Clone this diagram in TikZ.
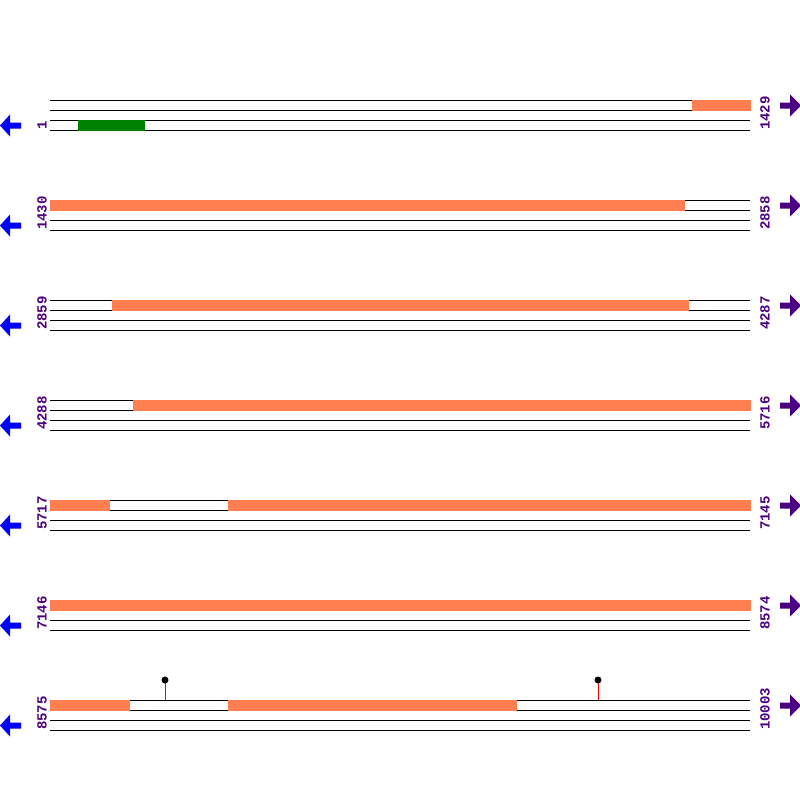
\documentclass[tikz,border=0pt]{standalone}
\usepackage{fontspec}
\setmonofont{Liberation Mono}
\definecolor{bar}{HTML}{FF7F50}
\definecolor{feat}{HTML}{008000}
\definecolor{lab}{HTML}{4B0082}
\definecolor{larr}{HTML}{0000FF}
\tikzset{
  seqline/.style={black, line width=1pt},
  orangebar/.style={fill=bar, draw=none},
  greenbar/.style={fill=feat, draw=none},
  numlab/.style={rotate=90, anchor=west, inner sep=0pt, text=lab, font=\fontsize{14}{14}\selectfont\ttfamily\bfseries},
  leftarrow/.style={fill=larr, draw=none},
  rightarrow/.style={fill=lab, draw=none},
  stem/.style={red, line width=1pt},
  pin/.style={circle, fill=black, inner sep=0pt, minimum size=7pt}
}
\begin{document}
\begin{tikzpicture}[x=1pt,y=-1pt]
\useasboundingbox (0,0) rectangle (800,800);
% block rows
\foreach \k/\l/\r in {1/1/1429,2/1430/2858,3/2859/4287,4/4288/5716,5/5717/7145,6/7146/8574,7/8575/10003}{
  \pgfmathsetmacro{\yy}{100*\k}
  \foreach \d in {0,10,20,30}{
    \draw[seqline] (50,\yy+\d) -- (750,\yy+\d);
  }
  \node[numlab] (L\k) at (42,\yy+30) {\l};
  \node[numlab] (R\k) at (765,\yy+30) {\r};
  % left arrow
  \fill[leftarrow] (0,\yy+25.5) -- (10,\yy+14.5) -- (10,\yy+22.5) -- (21,\yy+22.5) -- (21,\yy+28.5) -- (10,\yy+28.5) -- (10,\yy+36.5) -- cycle;
  % right arrow
  \fill[rightarrow] (801,\yy+5.5) -- (790,\yy-5.5) -- (790,\yy+2.5) -- (780,\yy+2.5) -- (780,\yy+8.5) -- (790,\yy+8.5) -- (790,\yy+16.5) -- cycle;
}
% bars
\fill[orangebar] (692,100) rectangle (751,111);
\fill[greenbar] (78,120) rectangle (145,131);
\fill[orangebar] (50,200) rectangle (685,211);
\fill[orangebar] (112,300) rectangle (689,311);
\fill[orangebar] (133,400) rectangle (751,411);
\fill[orangebar] (50,500) rectangle (110,511);
\fill[orangebar] (228,500) rectangle (751,511);
\fill[orangebar] (50,600) rectangle (751,611);
\fill[orangebar] (50,700) rectangle (130,711);
\fill[orangebar] (228,700) rectangle (517,711);
% lollipops
\coordinate (b1) at (165,700);
\coordinate (t1) at (165,680);
\draw[stem] (b1) -- (t1);
\node[pin] (p1) at (t1) {};
\coordinate (b2) at (598,700);
\coordinate (t2) at (598,680);
\draw[stem] (b2) -- (t2);
\node[pin] (p2) at (t2) {};
\end{tikzpicture}
\end{document}
